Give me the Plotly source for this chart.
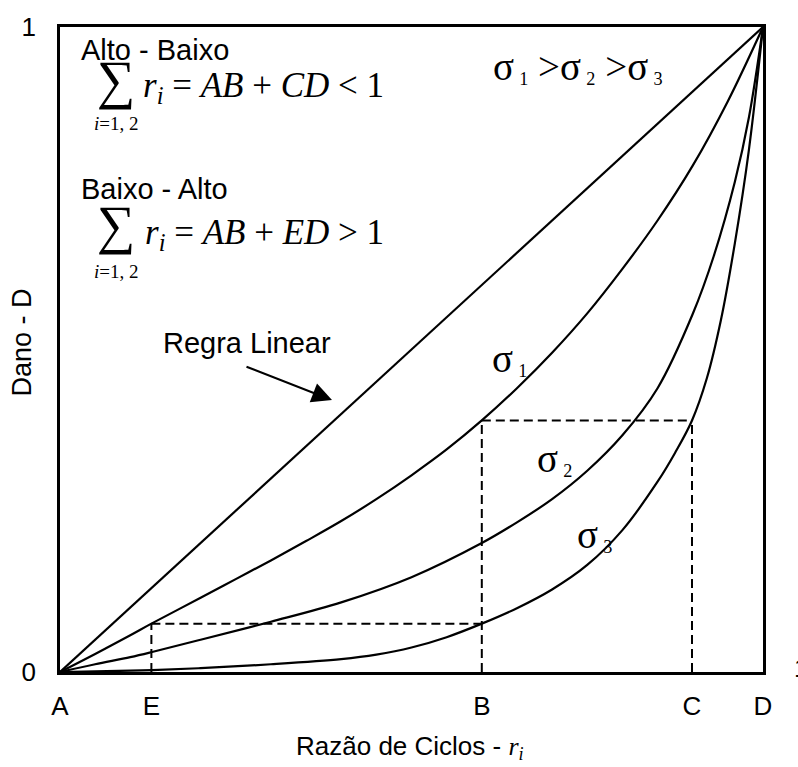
import plotly.graph_objects as go

# Posições de referência no eixo de razão de ciclos
ticks_r = [0.0, 0.13, 0.60, 0.899, 1.0]
ticks_txt = ["A", "E", "B", "C", "D"]
r_E, r_B, r_C = 0.13, 0.60, 0.899
dano_BC = 0.39    # dano no fim do primeiro bloco (σ1 em B, σ3 em C)
dano_EB = 0.075   # dano equivalente no bloco de baixa tensão (σ3 em B, σ1 em E)

# Regra linear (Palmgren-Miner)
r_lin = [0.0, 1.0]
d_lin = [0.0, 1.0]

# Curvas de dano para cada nível de tensão
r_s1 = [0.0, 0.05, 0.1, 0.13, 0.2, 0.25, 0.3, 0.35, 0.4, 0.45, 0.5, 0.55, 0.6,
        0.65, 0.7, 0.75, 0.8, 0.85, 0.9, 0.95, 1.0]
d_s1 = [0.0, 0.028, 0.057, 0.075, 0.115, 0.144, 0.173, 0.203, 0.234, 0.268, 0.305, 0.345, 0.39,
        0.44, 0.495, 0.556, 0.625, 0.70, 0.785, 0.885, 1.0]

r_s2 = [0.0, 0.05, 0.1, 0.131, 0.2, 0.3, 0.4, 0.5, 0.6, 0.65, 0.7, 0.75, 0.8, 0.85,
        0.9, 0.93, 0.96, 0.98, 1.0]
d_s2 = [0.0, 0.012, 0.023, 0.031, 0.05, 0.078, 0.108, 0.147, 0.20, 0.232, 0.268, 0.312, 0.367, 0.44,
        0.555, 0.645, 0.76, 0.86, 1.0]

r_s3 = [0.0, 0.1, 0.131, 0.2, 0.3, 0.4, 0.45, 0.5, 0.55, 0.6, 0.65, 0.7, 0.75, 0.8, 0.85,
        0.875, 0.899, 0.92, 0.94, 0.96, 0.98, 1.0]
d_s3 = [0.0, 0.002, 0.003, 0.006, 0.012, 0.02, 0.027, 0.038, 0.054, 0.075, 0.099, 0.128, 0.166, 0.22, 0.295,
        0.34, 0.39, 0.455, 0.545, 0.665, 0.81, 1.0]

W, H = 798, 767
ML, MR, MT, MB = 60, 35, 22, 95
PW, PH = W - ML - MR, H - MT - MB

SANS = "Liberation Sans"
SERIF = "Liberation Serif"
THIN = "\u2009"


def P(x, y):
    """Converte pixels da página em coordenadas 'paper'."""
    return (x - ML) / PW, (MT + PH - y) / PH


fig = go.Figure()

fig.add_trace(go.Scatter(x=r_lin, y=d_lin, mode="lines", line=dict(color="black", width=2.2)))
for rx, dy in [(r_s1, d_s1), (r_s2, d_s2), (r_s3, d_s3)]:
    fig.add_trace(go.Scatter(x=rx, y=dy, mode="lines",
                             line=dict(color="black", width=2.2, shape="spline", smoothing=1.0)))

# Linhas tracejadas de construção
dx = [r_E, r_E, None, r_E, r_B, None, r_B, r_B, None, r_B, r_C, None, r_C, r_C]
dyv = [0, dano_EB, None, dano_EB, dano_EB, None, 0, dano_BC, None, dano_BC, dano_BC, None, 0, dano_BC]
fig.add_trace(go.Scatter(x=dx, y=dyv, mode="lines",
                         line=dict(color="black", width=2, dash="9px,5px")))

ann = []


def text(x, y, t, size=26, family=SANS, xanchor="center", **kw):
    px_, py_ = P(x, y)
    ann.append(dict(x=px_, y=py_, xref="paper", yref="paper", text=t, showarrow=False,
                    xanchor=xanchor, yanchor="middle",
                    font=dict(family=family, size=size, color="black"), **kw))


def big(s, size=39):
    return f"<span style='font-size:{size}px'>{s}</span>"


def sig(n):
    return f"{big('σ')}{THIN}<sub>{n}</sub>"


# Bloco Alto - Baixo
text(79, 45, "Alto - Baixo", size=29, xanchor="left")
text(116, 75, "∑", size=54, family=SERIF)
text(141, 83, f"<i>r</i><sub><i>i</i></sub> = <i>AB</i> + <i>CD</i> &lt; 1",
     size=35, family=SERIF, xanchor="left")
text(116, 119, "<i>i</i>=1, 2", size=19, family=SERIF)

# Bloco Baixo - Alto
text(79, 185, "Baixo - Alto", size=29, xanchor="left")
text(116, 222, "∑", size=54, family=SERIF)
text(143, 231, f"<i>r</i><sub><i>i</i></sub> = <i>AB</i> + <i>ED</i> &gt; 1",
     size=35, family=SERIF, xanchor="left")
text(116, 268, "<i>i</i>=1, 2", size=19, family=SERIF)

text(578, 62, sig(1) + big(" &gt;") + sig(2) + big(" &gt;") + sig(3), size=26, family=SERIF)

text(247, 340, "Regra Linear", size=29)
text(509, 357, sig(1), size=26, family=SERIF)
text(554, 457, sig(2), size=26, family=SERIF)
text(594, 534, sig(3), size=26, family=SERIF)

# Títulos dos eixos
text(22, 340, "Dano - D", size=27, textangle=-90)
text(410, 748, "Razão de Ciclos - <span style='font-family:Liberation Serif'><i>r</i>"
               "<sub><i>i</i></sub></span>")
text(801, 668, "1")

# Seta indicando a regra linear
hx, hy = P(332, 398)
ann.append(dict(x=hx, y=hy, xref="paper", yref="paper", text="", showarrow=True,
                ax=-87, ay=-34, arrowhead=2, arrowsize=2, arrowwidth=2, arrowcolor="black"))

axis_common = dict(range=[0, 1], showgrid=False, zeroline=False, showline=True,
                   mirror=True, linecolor="black", linewidth=2.5, ticks="",
                   tickfont=dict(family=SANS, size=26, color="black"))

fig.update_layout(
    width=W, height=H,
    margin=dict(l=ML, r=MR, t=MT, b=MB),
    paper_bgcolor="white", plot_bgcolor="white",
    showlegend=False,
    xaxis=dict(**axis_common, tickvals=ticks_r, ticktext=ticks_txt, ticklabelstandoff=9),
    yaxis=dict(**axis_common, tickvals=[0, 1], ticktext=["0", "1"], ticklabelstandoff=16),
    annotations=ann,
)

fig.write_html("out.html")
